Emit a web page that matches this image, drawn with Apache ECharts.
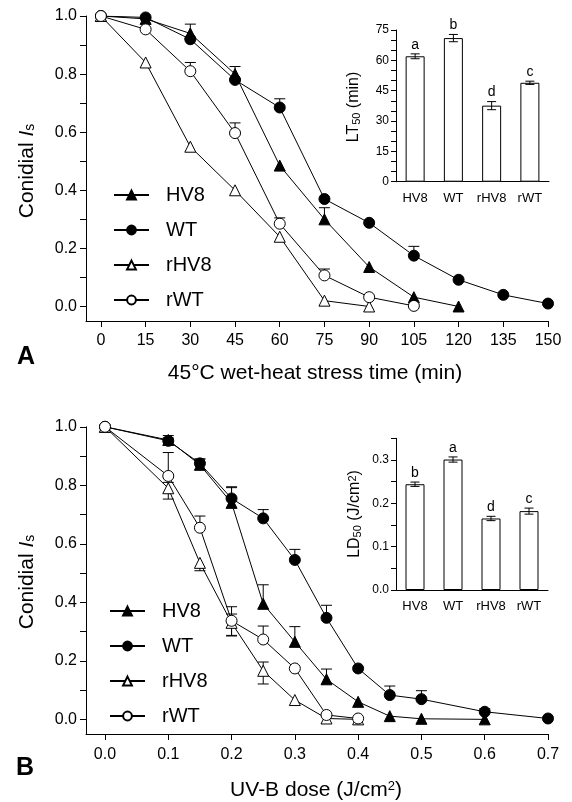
<!DOCTYPE html>
<html>
<head>
<meta charset="utf-8">
<script src="https://cdn.jsdelivr.net/npm/echarts@6/dist/echarts.min.js"></script>
<style>
  html, body { margin: 0; padding: 0; background: #fff; }
  #chart { width: 572px; height: 802px; }
</style>
</head>
<body>
<div id="chart"></div>
<script>
// ---- Panel A: 45°C wet-heat stress ----
const heatTicks = [0, 15, 30, 45, 60, 75, 90, 105, 120, 135, 150];
const heatTimeHV8 = [0, 15, 30, 45, 60, 75, 90, 105, 120];
const heatHV8 = [1.0, 0.99, 0.94, 0.80, 0.485, 0.30, 0.136, 0.032, 0.0];
const heatHV8Err = [0, 0, 0.032, 0.026, 0, 0.04, 0, 0, 0];
const heatTimeWT = [0, 15, 30, 45, 60, 75, 90, 105, 120, 135, 150];
const heatWT = [1.0, 0.995, 0.92, 0.78, 0.685, 0.37, 0.288, 0.175, 0.092, 0.04, 0.01];
const heatWTErr = [0, 0, 0, 0, 0.03, 0, 0, 0.032, 0, 0, 0];
const heatTimeRHV8 = [0, 15, 30, 45, 60, 75, 90];
const heatRHV8 = [1.0, 0.84, 0.55, 0.40, 0.24, 0.02, 0.0];
const heatRHV8Err = [0, 0, 0, 0, 0, 0, 0];
const heatTimeRWT = [0, 15, 30, 45, 60, 75, 90, 105];
const heatRWT = [1.0, 0.954, 0.81, 0.597, 0.285, 0.107, 0.032, 0.002];
const heatRWTErr = [0, 0, 0.03, 0.035, 0.02, 0.022, 0, 0];

// inset A: LT50
const insetCats = ["HV8", "WT", "rHV8", "rWT"];
const lt50 = [62, 71, 37.6, 48.9];
const lt50Err = [1.2, 1.8, 2.0, 0.8];
const lt50Letters = ["a", "b", "d", "c"];

// ---- Panel B: UV-B dose ----
const uvTicks = [0, 0.1, 0.2, 0.3, 0.4, 0.5, 0.6, 0.7];
const uvDoseHV8 = [0, 0.1, 0.15, 0.2, 0.25, 0.3, 0.35, 0.4, 0.45, 0.5, 0.6];
const uvHV8 = [1.0, 0.955, 0.87, 0.74, 0.395, 0.265, 0.137, 0.06, 0.011, 0.002, 0.0];
const uvHV8Up = [0, 0.015, 0.02, 0.052, 0.065, 0.052, 0.035, 0, 0, 0, 0];
const uvHV8Down = [0, 0, 0, 0, 0, 0, 0, 0, 0, 0, 0];
const uvDoseWT = [0, 0.1, 0.15, 0.2, 0.25, 0.3, 0.35, 0.4, 0.45, 0.5, 0.6, 0.7];
const uvWT = [1.0, 0.952, 0.875, 0.755, 0.687, 0.545, 0.347, 0.174, 0.083, 0.069, 0.026, 0.003];
const uvWTUp = [0, 0.01, 0.015, 0.04, 0.03, 0.036, 0.043, 0, 0.031, 0.029, 0.01, 0];
const uvWTDown = [0, 0, 0, 0, 0, 0, 0, 0, 0, 0, 0, 0];
const uvDoseRHV8 = [0, 0.1, 0.15, 0.2, 0.25, 0.3, 0.35, 0.4];
const uvRHV8 = [1.0, 0.79, 0.535, 0.33, 0.166, 0.066, 0.003, 0.0];
const uvRHV8Up = [0, 0.02, 0, 0.03, 0.03, 0, 0, 0];
const uvRHV8Down = [0, 0.037, 0.027, 0.045, 0.045, 0, 0, 0];
const uvDoseRWT = [0, 0.1, 0.15, 0.2, 0.25, 0.3, 0.35, 0.4];
const uvRWT = [1.0, 0.832, 0.655, 0.337, 0.273, 0.174, 0.015, 0.003];
const uvRWTUp = [0, 0.08, 0.04, 0.048, 0.046, 0, 0, 0];
const uvRWTDown = [0, 0, 0, 0.05, 0, 0, 0, 0];

// inset B: LD50
const ld50 = [0.244, 0.301, 0.165, 0.182];
const ld50Err = [0.005, 0.006, 0.005, 0.007];
const ld50Letters = ["b", "a", "d", "c"];

const isTicks = [0, 0.1, 0.2, 0.3, 0.4, 0.5, 0.6, 0.7, 0.8, 0.9, 1.0];
const isLabels = [0, 0.2, 0.4, 0.6, 0.8, 1.0];
const lt50Ticks = [0, 5, 10, 15, 20, 25, 30, 35, 40, 45, 50, 55, 60, 65, 70, 75];
const lt50Labels = [0, 15, 30, 45, 60, 75];
const ld50Ticks = [0, 0.05, 0.1, 0.15, 0.2, 0.25, 0.3, 0.35];
const ld50Labels = [0, 0.1, 0.2, 0.3];

const FONT = "'Liberation Sans', Arial, sans-serif";
const BLACK = "#000";

const chart = echarts.init(document.getElementById("chart"));

function valueAxis(gridIndex, min, max, ticks, labels, opts) {
  return {
    type: "value",
    gridIndex: gridIndex,
    min: min,
    max: max,
    splitLine: { show: false },
    axisLine: { show: true, onZero: false, lineStyle: { color: BLACK, width: 1 } },
    axisTick: { show: true, customValues: ticks, length: opts.tickLen || 6, lineStyle: { color: BLACK } },
    axisLabel: {
      customValues: labels,
      color: BLACK,
      fontFamily: FONT,
      fontSize: opts.fontSize,
      margin: opts.margin,
      formatter: opts.formatter
    }
  };
}

function catAxis(gridIndex) {
  return {
    type: "category", gridIndex: gridIndex, data: insetCats,
    axisLine: { lineStyle: { color: BLACK, width: 1 } },
    axisTick: { show: false },
    axisLabel: { interval: 0, color: BLACK, fontFamily: FONT, fontSize: 13, margin: 10 }
  };
}

function lineSeries(name, axis, xs, ys, symbol, filled) {
  return {
    type: "line",
    name: name,
    xAxisIndex: axis,
    yAxisIndex: axis,
    data: xs.map((x, i) => [x, ys[i]]),
    symbol: symbol,
    symbolSize: 11,
    lineStyle: { color: BLACK, width: 1 },
    itemStyle: { color: filled ? BLACK : "#fff", borderColor: BLACK, borderWidth: 1 },
    z: 3
  };
}

function errSeries(axis, xs, ys, up, down, cap) {
  const data = [];
  xs.forEach((x, i) => {
    if (up[i] > 0 || (down && down[i] > 0)) data.push([x, ys[i], up[i], down ? down[i] : 0]);
  });
  return {
    type: "custom",
    xAxisIndex: axis,
    yAxisIndex: axis,
    z: 2,
    encode: { x: 0, y: 1 },
    data: data,
    renderItem: function (params, api) {
      const x = api.value(0), y = api.value(1);
      const c = api.coord([x, y]);
      const top = api.coord([x, y + api.value(2)]);
      const bot = api.coord([x, y - api.value(3)]);
      const st = { stroke: BLACK, lineWidth: 1 };
      const children = [
        { type: "line", shape: { x1: c[0], y1: top[1], x2: c[0], y2: bot[1] }, style: st }
      ];
      if (api.value(2) > 0) children.push({ type: "line", shape: { x1: c[0] - cap, y1: top[1], x2: c[0] + cap, y2: top[1] }, style: st });
      if (api.value(3) > 0) children.push({ type: "line", shape: { x1: c[0] - cap, y1: bot[1], x2: c[0] + cap, y2: bot[1] }, style: st });
      return { type: "group", children: children };
    }
  };
}

function barSeries(axis, vals) {
  return {
    type: "bar",
    xAxisIndex: axis,
    yAxisIndex: axis,
    data: vals,
    barWidth: 19,
    itemStyle: { color: "#fff", borderColor: BLACK, borderWidth: 1 },
    z: 2
  };
}

function barErrSeries(axis, vals, errs, letters) {
  return {
    type: "custom",
    xAxisIndex: axis,
    yAxisIndex: axis,
    z: 3,
    data: vals.map((v, i) => [i, v, errs[i]]),
    renderItem: function (params, api) {
      const i = api.value(0), v = api.value(1), e = api.value(2);
      const top = api.coord([i, v + e]);
      const bot = api.coord([i, v - e]);
      const st = { stroke: BLACK, lineWidth: 1 };
      const cap = 4.5;
      return {
        type: "group",
        children: [
          { type: "line", shape: { x1: top[0], y1: top[1], x2: bot[0], y2: bot[1] }, style: st },
          { type: "line", shape: { x1: top[0] - cap, y1: top[1], x2: top[0] + cap, y2: top[1] }, style: st },
          { type: "line", shape: { x1: bot[0] - cap, y1: bot[1], x2: bot[0] + cap, y2: bot[1] }, style: st },
          {
            type: "text",
            style: {
              text: letters[params.dataIndex], x: top[0], y: top[1] - 2,
              textAlign: "center", textVerticalAlign: "bottom",
              fontSize: 14, fontFamily: FONT, fill: BLACK
            }
          }
        ]
      };
    }
  };
}

const dec1 = v => v.toFixed(1);
const names = ["HV8", "WT", "rHV8", "rWT"];
const legendBase = {
  data: names,
  orient: "vertical",
  itemWidth: 35,
  itemHeight: 11,
  itemGap: 15,
  selectedMode: false,
  textStyle: { fontSize: 20, fontFamily: FONT, color: BLACK, padding: [0, 0, 0, 12] }
};

const bigText = { fontSize: 21, fontFamily: FONT, fill: BLACK };
const isRich = { n: { fontSize: 21 }, i: { fontSize: 21, fontStyle: "italic" }, s: { fontSize: 14, verticalAlign: "bottom" } };

chart.setOption({
  animation: false,
  backgroundColor: "#fff",
  grid: [
    { left: 86, top: 16, width: 462, height: 305, outerBoundsMode: "none" },
    { left: 396, top: 30, width: 153, height: 151.7, outerBoundsMode: "none" },
    { left: 86, top: 426.8, width: 462, height: 307.2, outerBoundsMode: "none" },
    { left: 396, top: 438.3, width: 152, height: 151.7, outerBoundsMode: "none" }
  ],
  xAxis: [
    valueAxis(0, -5, 150, heatTicks, heatTicks, { fontSize: 16, margin: 12 }),
    catAxis(1),
    valueAxis(2, -0.03, 0.7, uvTicks, uvTicks, { fontSize: 16, margin: 13, formatter: dec1 }),
    catAxis(3)
  ],
  yAxis: [
    valueAxis(0, -0.05, 1.0, isTicks, isLabels, { fontSize: 16, margin: 9, formatter: dec1 }),
    valueAxis(1, 0, 75, lt50Ticks, lt50Labels, { fontSize: 12, margin: 7, tickLen: 5 }),
    valueAxis(2, -0.05, 1.0, isTicks, isLabels, { fontSize: 16, margin: 9, formatter: dec1 }),
    valueAxis(3, 0, 0.35, ld50Ticks, ld50Labels, { fontSize: 12, margin: 7, tickLen: 5, formatter: dec1 })
  ],
  legend: [
    Object.assign({}, legendBase, { left: 108, top: 180 }),
    Object.assign({}, legendBase, { left: 104, top: 596 })
  ],
  graphic: [
    {
      type: "text", x: 27, y: 171, rotation: Math.PI / 2,
      style: Object.assign({ text: "{n|Conidial }{i|I}{s|s}", textAlign: "center", textVerticalAlign: "middle", rich: isRich }, bigText)
    },
    {
      type: "text", x: 27, y: 582, rotation: Math.PI / 2,
      style: Object.assign({ text: "{n|Conidial }{i|I}{s|s}", textAlign: "center", textVerticalAlign: "middle", rich: isRich }, bigText)
    },
    {
      type: "text", x: 315, y: 373,
      style: Object.assign({ text: "45°C wet-heat stress time (min)", textAlign: "center", textVerticalAlign: "middle" }, bigText)
    },
    {
      type: "text", x: 316, y: 790,
      style: Object.assign({
        text: "{n|UV-B dose (J/cm}{p|2}{n|)}",
        textAlign: "center", textVerticalAlign: "middle",
        rich: { n: { fontSize: 21 }, p: { fontSize: 13, verticalAlign: "top" } }
      }, bigText)
    },
    {
      type: "text", x: 354, y: 107, rotation: Math.PI / 2,
      style: {
        text: "{n|LT}{s|50}{n| (min)}", fontFamily: FONT, fill: BLACK,
        textAlign: "center", textVerticalAlign: "middle",
        rich: { n: { fontSize: 16 }, s: { fontSize: 11, verticalAlign: "bottom" } }
      }
    },
    {
      type: "text", x: 355, y: 514, rotation: Math.PI / 2,
      style: {
        text: "{n|LD}{s|50}{n| (J/cm}{p|2}{n|)}", fontFamily: FONT, fill: BLACK,
        textAlign: "center", textVerticalAlign: "middle",
        rich: { n: { fontSize: 16 }, s: { fontSize: 11, verticalAlign: "bottom" }, p: { fontSize: 11, verticalAlign: "top" } }
      }
    },
    {
      type: "text", x: 26, y: 357,
      style: { text: "A", fontSize: 25, fontWeight: "bold", fontFamily: FONT, fill: BLACK, textAlign: "center", textVerticalAlign: "middle" }
    },
    {
      type: "text", x: 25, y: 768,
      style: { text: "B", fontSize: 25, fontWeight: "bold", fontFamily: FONT, fill: BLACK, textAlign: "center", textVerticalAlign: "middle" }
    }
  ],
  series: [
    errSeries(0, heatTimeHV8, heatHV8, heatHV8Err, null, 5.5),
    errSeries(0, heatTimeWT, heatWT, heatWTErr, null, 5.5),
    errSeries(0, heatTimeRHV8, heatRHV8, heatRHV8Err, null, 5.5),
    errSeries(0, heatTimeRWT, heatRWT, heatRWTErr, null, 5.5),
    lineSeries("HV8", 0, heatTimeHV8, heatHV8, "triangle", true),
    lineSeries("WT", 0, heatTimeWT, heatWT, "circle", true),
    lineSeries("rHV8", 0, heatTimeRHV8, heatRHV8, "triangle", false),
    lineSeries("rWT", 0, heatTimeRWT, heatRWT, "circle", false),
    barSeries(1, lt50),
    barErrSeries(1, lt50, lt50Err, lt50Letters),
    errSeries(2, uvDoseHV8, uvHV8, uvHV8Up, uvHV8Down, 5.5),
    errSeries(2, uvDoseWT, uvWT, uvWTUp, uvWTDown, 5.5),
    errSeries(2, uvDoseRHV8, uvRHV8, uvRHV8Up, uvRHV8Down, 5.5),
    errSeries(2, uvDoseRWT, uvRWT, uvRWTUp, uvRWTDown, 5.5),
    lineSeries("HV8", 2, uvDoseHV8, uvHV8, "triangle", true),
    lineSeries("WT", 2, uvDoseWT, uvWT, "circle", true),
    lineSeries("rHV8", 2, uvDoseRHV8, uvRHV8, "triangle", false),
    lineSeries("rWT", 2, uvDoseRWT, uvRWT, "circle", false),
    barSeries(3, ld50),
    barErrSeries(3, ld50, ld50Err, ld50Letters)
  ]
});
</script>
</body>
</html>
